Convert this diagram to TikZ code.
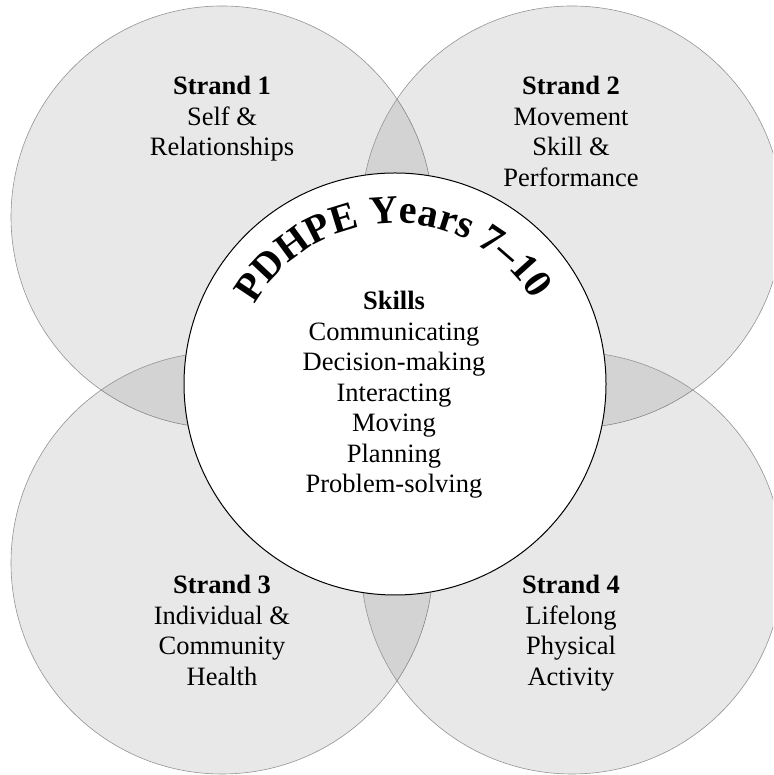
\documentclass[tikz,border=0pt]{standalone}
\usepackage{fontspec}
\setmainfont{Liberation Serif}
\usetikzlibrary{decorations.text}
\begin{document}
\begin{tikzpicture}[x=1pt,y=1pt,
  strand/.style={fill=black, fill opacity=0.09, draw=black!42, draw opacity=1, line width=0.6pt},
  hub/.style={fill=white, draw=black, line width=1pt},
  label/.style={align=center, anchor=base, inner sep=0pt, font=\fontsize{26.5}{30.5}\selectfont}]
\useasboundingbox (0,0) rectangle (773,775);
\clip (0,0) rectangle (773,775);
\coordinate (c1) at (222,558);
\coordinate (c2) at (572,558);
\coordinate (c3) at (222,212);
\coordinate (c4) at (572,212);
\coordinate (cc) at (395,391);
\path[strand] (c1) circle[radius=211];
\path[strand] (c2) circle[radius=211];
\path[strand] (c3) circle[radius=211];
\path[strand] (c4) circle[radius=211];
\path[hub] (cc) circle[radius=211];
\path[decorate, decoration={text along path, text align=center,
  text={|\fontsize{40}{40}\selectfont\bfseries|PDHPE Years 7–10}}]
  (cc) ++(181:161) arc[start angle=181, end angle=1, radius=161];
\node[label] (s1) at (222,619.4) {\textbf{Strand 1}\\Self \&\\Relationships};
\node[label] (s2) at (571,588.9) {\textbf{Strand 2}\\Movement\\Skill \&\\Performance};
\node[label] (s3) at (222,89.9) {\textbf{Strand 3}\\Individual \&\\Community\\Health};
\node[label] (s4) at (571,89.9) {\textbf{Strand 4}\\Lifelong\\Physical\\Activity};
\node[label] (sk) at (394,282) {\textbf{Skills}\\Communicating\\Decision-making\\Interacting\\Moving\\Planning\\Problem-solving};
\end{tikzpicture}
\end{document}
